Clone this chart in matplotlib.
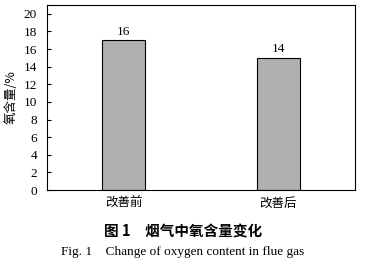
import matplotlib
matplotlib.use("Agg")
import matplotlib.pyplot as plt

plt.rcParams['font.family'] = ['Liberation Serif', 'Noto Sans CJK SC', 'DejaVu Sans']

# data
categories = ["改善前", "改善后"]
heights = [17, 15]          # bar tops as drawn
labels = ["16", "14"]       # numbers printed on top of the bars
yticks = [0, 2, 4, 6, 8, 10, 12, 14, 16, 18, 20]

fig = plt.figure(figsize=(3.66, 2.61), dpi=100)
ax = fig.add_axes([0.1276, 0.272, 0.8432, 0.7088])

x = range(len(categories))
bars = ax.bar(x, heights, width=0.28, color="#b0b0b0", edgecolor="black", linewidth=0.8)
for b, t in zip(bars, labels):
    ax.text(b.get_x() + b.get_width() / 2, b.get_height() + 0.3, t,
            ha="center", va="bottom", fontsize=9.5)

ax.set_xlim(-0.5, 1.5)
ax.set_ylim(0, 21)
ax.set_yticks(yticks)
ax.set_xticks(list(x))
ax.set_xticklabels(categories, family=['Noto Sans CJK SC', 'DejaVu Sans'], fontsize=9)
ax.tick_params(axis="y", direction="in", length=3, width=0.8, labelsize=9.5, pad=7)
ax.tick_params(axis="x", length=0, pad=5)
ax.set_ylabel("氧含量/%", family=['Noto Sans CJK SC', 'DejaVu Sans'], fontsize=9, labelpad=4)
for s in ax.spines.values():
    s.set_linewidth(0.8)

fig.text(0.5, 0.111, "图 1　烟气中氧含量变化", ha="center", va="center",
         family=['Noto Sans CJK SC', 'DejaVu Sans'], fontsize=10.5, fontweight="bold")
fig.text(0.5, 0.034, "Fig. 1    Change of oxygen content in flue gas", ha="center", va="center",
         fontsize=9.5)

fig.savefig("out.png", dpi=100)
